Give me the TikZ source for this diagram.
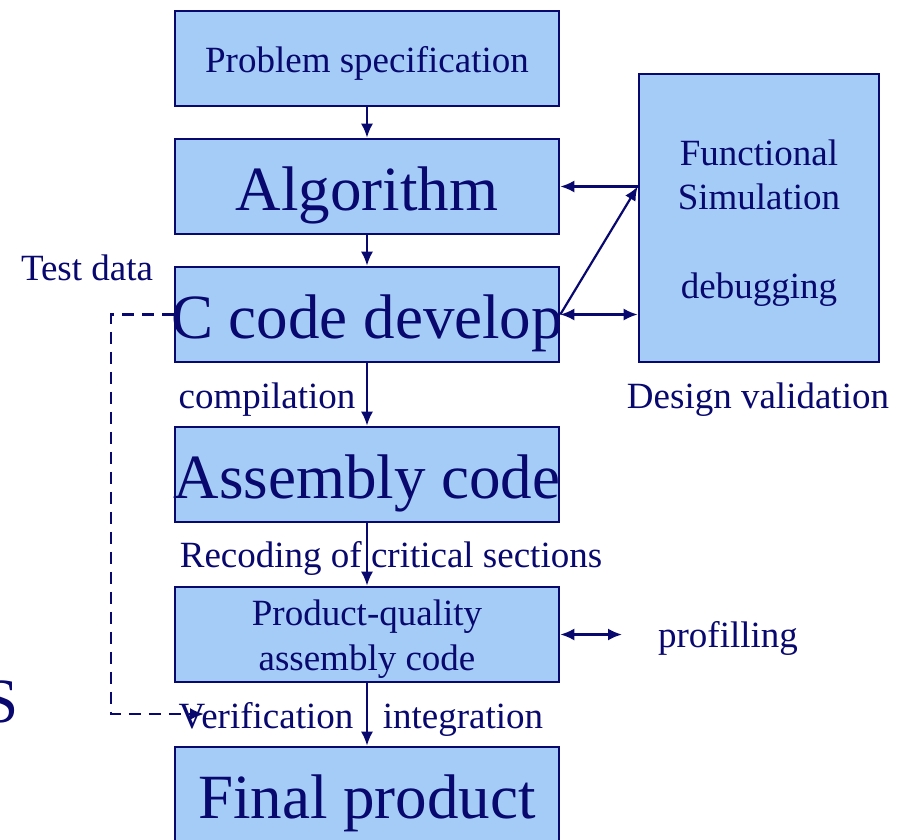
\documentclass[tikz,border=0pt]{standalone}
\usepackage{fontspec}
\setmainfont{Liberation Serif}
\usetikzlibrary{arrows.meta,calc}
\definecolor{ink}{RGB}{8,8,110}
\definecolor{boxfill}{RGB}{164,204,246}
\newcommand{\smallsz}{\fontsize{37}{44}\selectfont}
\newcommand{\bigsz}{\fontsize{63}{70}\selectfont}
\tikzset{
  stagebox/.style={draw=ink, fill=boxfill, line width=2.6pt, minimum width=384pt,
    minimum height=95pt, inner sep=0pt},
  lbl/.style={text=ink, inner sep=0pt, anchor=base, font=\smallsz},
  biglbl/.style={text=ink, inner sep=0pt, anchor=base, font=\bigsz},
  flow/.style={draw=ink, line width=2.2pt, -{Latex[length=14pt,width=12pt]}},
  both/.style={draw=ink, line width=2.2pt, {Latex[length=14pt,width=12pt]}-{Latex[length=14pt,width=12pt]}},
}
\begin{document}
\begin{tikzpicture}[x=1pt,y=-1pt]
  \useasboundingbox (0,0) rectangle (900,839);

  % boxes of the main chain
  \node[stagebox] (ps)  at (367,58.5)  {};
  \node[stagebox] (alg) at (367,186.5) {};
  \node[stagebox] (cc)  at (367,314.5) {};
  \node[stagebox] (asm) at (367,474.5) {};
  \node[stagebox] (pq)  at (367,634.5) {};
  \node[stagebox] (fp)  at (367,794.5) {};
  % simulation block on the right
  \node[stagebox, minimum width=240pt, minimum height=288pt] (fs) at (759,218) {};

  % box texts (set on their own so that wide words may run past the frame)
  \node[lbl]    (psT)  at (367,72)    {Problem specification};
  \node[biglbl] (algT) at (367,210.5) {Algorithm};
  \node[biglbl] (ccT)  at (367,338.5) {C code develop};
  \node[biglbl] (asmT) at (367,498.5) {Assembly code};
  \node[lbl]    (pqT1) at (367,625)   {Product-quality};
  \node[lbl]    (pqT2) at (367,670)   {assembly code};
  \node[biglbl] (fpT)  at (367,818.5) {Final product};
  \node[lbl]    (fsT1) at (759,165)   {Functional};
  \node[lbl]    (fsT2) at (759,209)   {Simulation};
  \node[lbl]    (fsT3) at (759,298)   {debugging};

  % loose labels
  \node[lbl] (td)   at (87,280)  {Test data};
  \node[lbl] (comp) at (267,408) {compilation};
  \node[lbl] (dv)   at (758,408) {Design validation};
  \node[lbl] (rec)  at (391,567) {Recoding of critical sections};
  \node[lbl] (prof) at (728,647) {profilling};
  \node[lbl] (ver)  at (266,728) {Verification};
  \node[lbl] (intg) at (463,728) {integration};
  \node[text=ink, inner sep=0pt, font=\bigsz, anchor=base east] (s) at (19,722) {S};

  % helper points
  \coordinate (fsA) at (fs.west |- alg.east);
  \coordinate (fsC) at (fs.west |- cc.east);
  \coordinate (profEnd) at (622,634.5);
  \coordinate (dashTop) at (111,314.5);
  \coordinate (dashBot) at (111,714);
  \coordinate (dashEnd) at (204,714);

  % vertical flow
  \draw[flow] (ps.south) -- (alg.north);
  \draw[flow] (alg.south) -- (cc.north);
  \draw[flow] (cc.south) -- (asm.north);
  \draw[flow] (asm.south) -- (pq.north);
  \draw[flow] (pq.south) -- (fp.north);

  % links with the simulation block
  \draw[flow] (fsA) -- (alg.east);
  \draw[flow] (cc.east) -- (fsA);
  \draw[both] (cc.east) -- (fsC);
  \draw[both] (pq.east) -- (profEnd);

  % test data feedback path
  \draw[flow, dashed, dash pattern=on 12pt off 8pt] (cc.west) -- (dashTop) -- (dashBot) -- (dashEnd);
\end{tikzpicture}
\end{document}
